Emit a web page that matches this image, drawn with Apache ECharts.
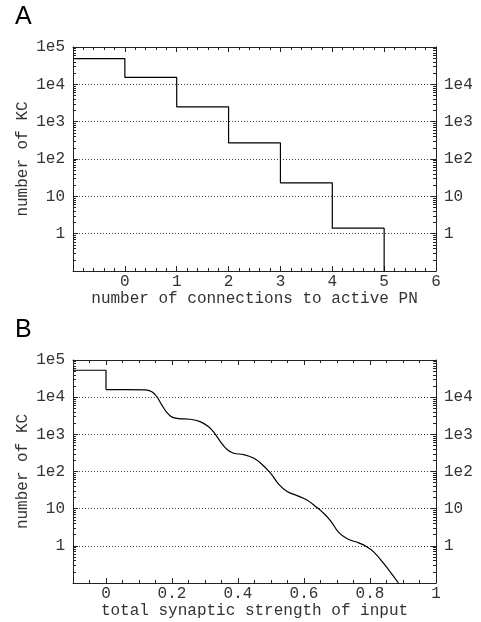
<!DOCTYPE html>
<html><head><meta charset="utf-8">
<script src="https://cdn.jsdelivr.net/npm/echarts@6/dist/echarts.min.js"></script>
<style>html,body{margin:0;padding:0;background:#fff}#c{width:481px;height:622px}</style>
</head><body><div id="c"></div>
<script>
// Panel A: number of KC vs number of connections to active PN (step)
const connEdges = [-1, 0, 1, 2, 3, 4, 5];
const connCounts = [49000, 15300, 2500, 270, 23, 1.4, 0.1];

// Panel B: number of KC vs total synaptic strength of input
const strengthStepX = [-0.1, 0];
const strengthStepY = [53000, 16000];
const strengthX = [0, 0.06, 0.118, 0.139, 0.154, 0.169, 0.184, 0.2, 0.22, 0.255, 0.285, 0.311, 0.328, 0.346, 0.367, 0.387, 0.417, 0.447, 0.473, 0.498, 0.523, 0.549, 0.579, 0.609, 0.635, 0.655, 0.68, 0.705, 0.731, 0.766, 0.79, 0.812, 0.842, 0.886];
const strengthY = [16000, 16000, 15800, 14000, 10300, 6200, 3900, 2900, 2650, 2550, 2200, 1600, 1100, 650, 390, 310, 285, 230, 155, 92, 46, 29, 22.5, 17, 11.5, 8.2, 4.8, 2.3, 1.55, 1.2, 0.95, 0.68, 0.33, 0.1];

const yTickValues = [0.1, 1, 10, 100, 1000, 10000, 100000];
const yTickLeft = ['', '1', '10', '1e2', '1e3', '1e4', '1e5'];
const yTickRight = ['', '1', '10', '1e2', '1e3', '1e4', ''];

const FONT = 'Liberation Mono';
const TXT = '#333';
const AX = '#222';

function yLabel(list) {
  return function (v) {
    const e = Math.round(Math.log10(v));
    const i = yTickValues.findIndex(t => Math.round(Math.log10(t)) === e);
    return i >= 0 ? list[i] : '';
  };
}

function zip(xs, ys) { return xs.map((x, i) => [x, ys[i]]); }

const grids = [
  { left: 73, right: 45, top: 47, height: 224 },
  { left: 73, right: 45, top: 360, height: 223 }
];

const xCfg = [
  { min: -1, max: 6, interval: 1, minor: 5, name: 'number of connections to active PN', hideMin: -1 },
  { min: -0.1, max: 1, minor: 4, name: 'total synaptic strength of input', hideMin: -0.1 }
];

const xAxes = [], yAxes = [];
xCfg.forEach((c, g) => {
  const base = {
    type: 'value', gridIndex: g, min: c.min, max: c.max,
    axisLine: { show: true, onZero: false, lineStyle: { color: AX, width: 1 } },
    axisTick: { show: true, inside: true, length: 5, lineStyle: { color: AX } },
    minorTick: { show: true, splitNumber: c.minor, length: 3, lineStyle: { color: AX } },
    splitLine: { show: false }
  };
  if (c.interval) base.interval = c.interval;
  xAxes.push(Object.assign({}, base, {
    position: 'bottom',
    name: c.name, nameLocation: 'middle', nameGap: 20, nameMoveOverlap: false,
    nameTextStyle: { fontFamily: FONT, fontSize: 16, color: TXT },
    axisLabel: {
      show: true, margin: 3, fontFamily: FONT, fontSize: 16, color: TXT,
      formatter: v => (Math.abs(v - c.hideMin) < 1e-9 ? '' : String(v))
    }
  }));
  xAxes.push(Object.assign({}, base, { position: 'top', axisLabel: { show: false } }));

  const ybase = {
    type: 'log', logBase: 10, gridIndex: g, min: 0.1, max: 100000,
    axisLine: { show: true, onZero: false, lineStyle: { color: AX, width: 1 } },
    axisTick: { show: true, inside: true, length: 5, lineStyle: { color: AX } },
    minorTick: { show: true, splitNumber: 9, length: 3, lineStyle: { color: AX } }
  };
  yAxes.push(Object.assign({}, ybase, {
    position: 'left',
    name: 'number of KC', nameLocation: 'middle', nameGap: 42, nameMoveOverlap: false,
    nameTextStyle: { fontFamily: FONT, fontSize: 16, color: TXT },
    axisLabel: { margin: 8, fontFamily: FONT, fontSize: 16, color: TXT, formatter: yLabel(yTickLeft) },
    splitLine: { show: true, lineStyle: { color: '#444', width: 1, type: [1, 2] } }
  }));
  yAxes.push(Object.assign({}, ybase, {
    position: 'right',
    axisLabel: { margin: 8, fontFamily: FONT, fontSize: 16, color: TXT, formatter: yLabel(yTickRight) },
    splitLine: { show: false }
  }));
});

const lineStyle = { color: '#000', width: 1.2 };
const option = {
  animation: false,
  backgroundColor: '#fff',
  grid: grids,
  xAxis: xAxes,
  yAxis: yAxes,
  graphic: [
    { type: 'text', left: 15, top: 5, style: { text: 'A', font: '25px "Liberation Sans"', fill: '#000' } },
    { type: 'text', left: 15, top: 318, style: { text: 'B', font: '25px "Liberation Sans"', fill: '#000' } }
  ],
  series: [
    { type: 'line', xAxisIndex: 0, yAxisIndex: 0, step: 'end', data: zip(connEdges, connCounts),
      showSymbol: false, clip: true, lineStyle: lineStyle },
    { type: 'line', xAxisIndex: 2, yAxisIndex: 2, step: 'end', data: zip(strengthStepX, strengthStepY),
      showSymbol: false, clip: true, lineStyle: lineStyle },
    { type: 'line', xAxisIndex: 2, yAxisIndex: 2, smooth: 0.4, data: zip(strengthX, strengthY),
      showSymbol: false, clip: true, lineStyle: lineStyle }
  ]
};
const chart = echarts.init(document.getElementById('c'), null, { renderer: 'canvas' });
chart.setOption(option);
</script>
</body></html>
